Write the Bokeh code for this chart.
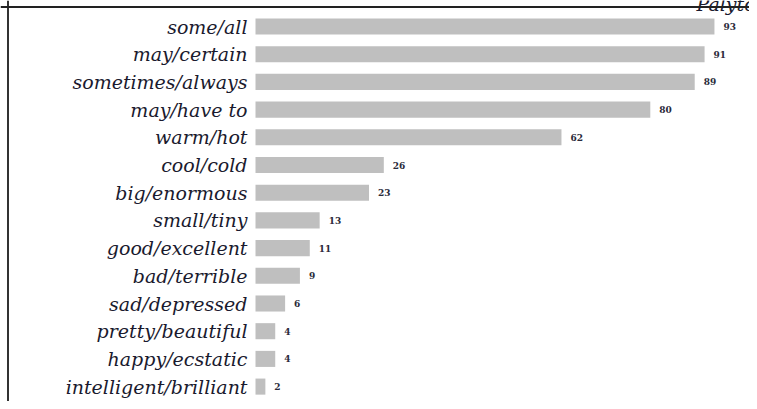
import numpy as np
from bokeh.plotting import figure
from bokeh.models import Range1d, ColumnDataSource, Span
from bokeh.core.properties import value
from bokeh.embed import file_html
from bokeh.resources import INLINE

categories = ["some/all", "may/certain", "sometimes/always", "may/have to", "warm/hot",
              "cool/cold", "big/enormous", "small/tiny", "good/excellent", "bad/terrible",
              "sad/depressed", "pretty/beautiful", "happy/ecstatic", "intelligent/brilliant"]
values = [93, 91, 89, 80, 62, 26, 23, 13, 11, 9, 6, 4, 4, 2]
corner_text = "Palyton"

n = len(categories)
ypos = list(np.arange(n)[::-1].astype(float))
src = ColumnDataSource(dict(cat=categories, val=values, y=ypos,
                            lab=[str(v) for v in values], zero=[0] * n))

W, H = 749, 401
ppu = 4.935          # pixels per unit on x
row = 27.7           # pixels per row
x0px = 255           # pixel where bars start
y0px = 26            # pixel centre of first row
xs = -x0px / ppu
ytop = (n - 1) + y0px / row

p = figure(width=W, height=H, output_backend="svg", toolbar_location=None,
           x_range=Range1d(xs, xs + W / ppu),
           y_range=Range1d(ytop - H / row, ytop),
           min_border=0, min_border_left=0, min_border_right=0,
           min_border_top=0, min_border_bottom=0)
p.axis.visible = False
p.grid.visible = False
p.outline_line_color = None
p.background_fill_color = "white"

p.hbar(y="y", right="val", left=0, height=0.58, source=src,
       fill_color="#bfbfbf", line_color=None)

p.text(x="zero", y="y", text="cat", source=src, x_offset=-8,
       text_align="right", text_baseline="middle",
       text_font=value("DejaVu Serif"), text_font_style="italic",
       text_font_size="19px", text_color="#1a1a2e")

p.text(x="val", y="y", text="lab", source=src, x_offset=9,
       text_align="left", text_baseline="middle",
       text_font=value("DejaVu Serif"), text_font_style="bold",
       text_font_size="9px", text_color="#2a2a3a")

p.text(x=[xs + 696 / ppu], y=[ytop - 3 / row], text=[corner_text],
       text_align="left", text_baseline="alphabetic",
       text_font=value("DejaVu Serif"), text_font_style="italic",
       text_font_size="19px", text_color="#1a1a2e")

p.add_layout(Span(location=xs + 7.5 / ppu, dimension="height",
                  line_color="#333333", line_width=2))
p.add_layout(Span(location=ytop - 6.5 / row, dimension="width",
                  line_color="#222222", line_width=2))

open("out.html", "w").write(file_html(p, INLINE))
